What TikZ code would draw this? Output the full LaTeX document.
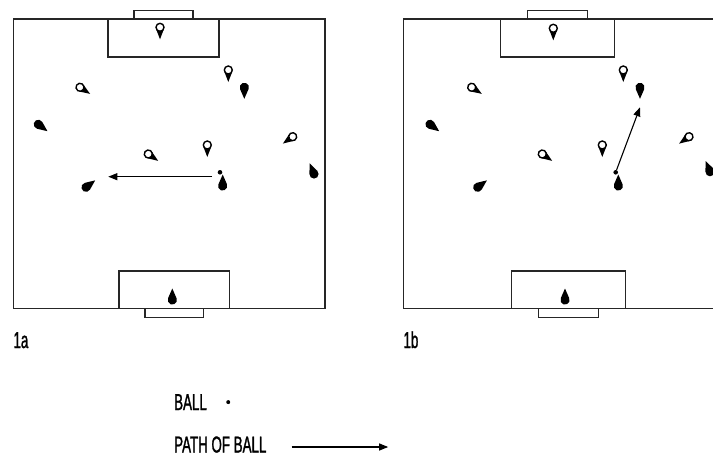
\documentclass[tikz,border=0pt]{standalone}
\usepackage{fontspec}
\setmainfont{Liberation Sans}[FakeStretch=0.58,FakeBold=1.2]
\usetikzlibrary{arrows.meta,positioning}

\begin{document}
\begin{tikzpicture}[x=1pt,y=-1pt,>={Triangle[length=9pt,width=7pt]},
    line/.style={line width=1.3pt,black!85},
    pass/.style={->,line width=1.1pt},
    ball/.style={circle,fill,inner sep=0pt,minimum size=4.6pt},
    lbl/.style={inner sep=0pt,font=\fontsize{23}{25}\selectfont},
    wplayer/.pic={\fill (12,0) -- (70:4.3) -- (-70:4.3) -- cycle;
      \draw[line width=1.4pt,fill=white] (0,0) circle[radius=4];},
    bplayer/.pic={\fill (11.5,0) -- (67:4.6) arc[start angle=67,end angle=293,radius=4.6] -- cycle;}]
    \useasboundingbox (0,0) rectangle (713,458);
    \draw[line] (13.3,19) rectangle (325,308.7);
    \draw[line] (108,19) rectangle (219,57);
    \draw[line] (134,10.3) rectangle (193,19);
    \draw[line] (119,271) rectangle (229.7,308.7);
    \draw[line] (145,308.7) rectangle (203.7,317.7);
    \pic[rotate=-90] at (160,27.3) {wplayer};
    \pic[rotate=-90] at (228.3,70) {wplayer};
    \pic[rotate=-90] at (244.3,87.3) {bplayer};
    \pic[rotate=-33] at (80,87.3) {wplayer};
    \pic[rotate=-37] at (38.3,124.3) {bplayer};
    \pic[rotate=-145] at (292.7,136.7) {wplayer};
    \pic[rotate=-90] at (207.3,145) {wplayer};
    \pic[rotate=-35] at (148.3,154) {wplayer};
    \pic[rotate=37] at (86,187.3) {bplayer};
    \pic[rotate=90] at (222.7,186) {bplayer};
    \pic[rotate=112] at (314,174) {bplayer};
    \pic[rotate=90] at (172.3,300) {bplayer};
    \node[ball] (ball1a) at (220,172.3) {};
    \coordinate (pass1a) at (108.3,176.7);
    \draw[pass,shorten <=6pt] (ball1a.south west |- pass1a) -- (pass1a);
    \node[lbl,anchor=base west] (tag1a) at (13.3,348) {1a};
    \draw[line] (403.3,19) rectangle (723,308.7);
    \draw[line] (500.7,19) rectangle (614.3,57);
    \draw[line] (527.7,10.3) rectangle (587.3,19);
    \draw[line] (511.3,271) rectangle (625.7,308.7);
    \draw[line] (538.7,308.7) rectangle (598.7,317.7);
    \pic[rotate=-90] at (553.3,28.3) {wplayer};
    \pic[rotate=-90] at (623.3,70) {wplayer};
    \pic[rotate=-90] at (640,87.3) {bplayer};
    \pic[rotate=-33] at (471.7,87.3) {wplayer};
    \pic[rotate=-37] at (430,124.3) {bplayer};
    \pic[rotate=-145] at (689,136.7) {wplayer};
    \pic[rotate=-90] at (602.3,145) {wplayer};
    \pic[rotate=-35] at (542.3,154) {wplayer};
    \pic[rotate=37] at (477.7,187.3) {bplayer};
    \pic[rotate=90] at (618.3,186) {bplayer};
    \pic[rotate=112] at (710,171.7) {bplayer};
    \pic[rotate=90] at (565,300) {bplayer};
    \node[ball] (ball1b) at (615.7,172.3) {};
    \coordinate (pass1b) at (640,107.3);
    \draw[pass] (ball1b) -- (pass1b);
    \node[lbl,anchor=base west] (tag1b) at (403.3,348) {1b};
    \node[lbl,anchor=base west] (ballkey) at (174,410) {BALL};
    \node[ball,minimum size=4pt,right=19pt of ballkey] (balldot) {};
    \node[lbl,anchor=base west] (pathkey) at (174,452.5) {PATH OF BALL};
    \coordinate[right=25pt of pathkey.base east,yshift=5.5pt] (keyfrom);
    \coordinate[right=96.6pt of keyfrom] (keyto);
    \draw[pass] (keyfrom) -- (keyto);
  \end{tikzpicture}
\end{document}
